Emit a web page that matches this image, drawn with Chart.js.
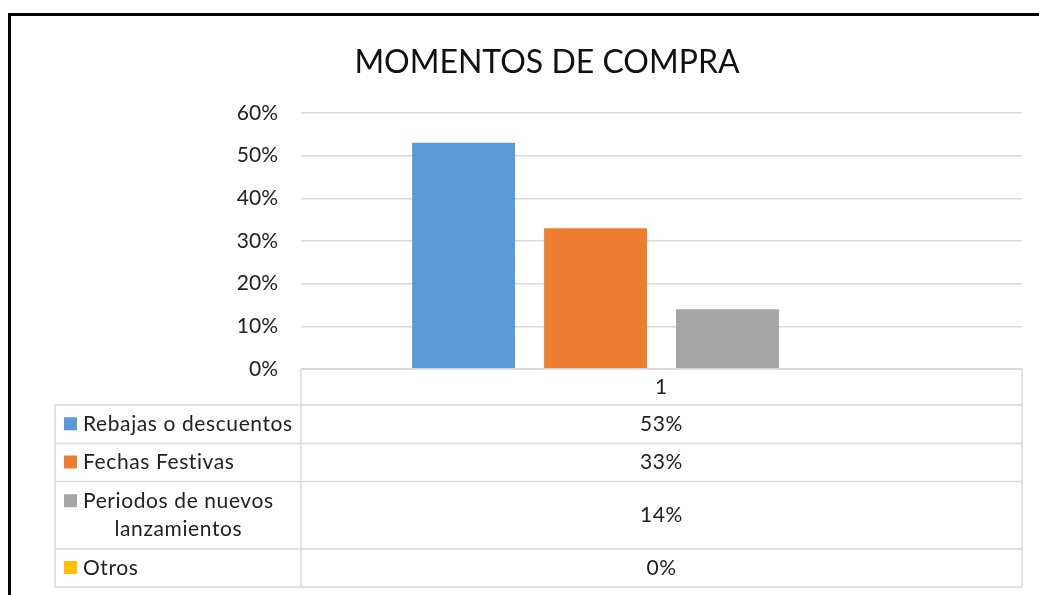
<!DOCTYPE html>
<html>
<head>
<meta charset="utf-8">
<title>Momentos de compra</title>
<script src="https://cdn.jsdelivr.net/npm/chart.js@4.4.1/dist/chart.umd.min.js"></script>
<style>
  html, body { margin: 0; padding: 0; background: #fff; }
  #wrap { position: relative; width: 1039px; height: 595px; overflow: hidden; }
  #frame { position: absolute; left: 8px; top: 13px; width: 1100px; height: 700px; border: 3px solid #000; box-sizing: border-box; pointer-events: none; }
  canvas { position: absolute; left: 0; top: 0; }
</style>
</head>
<body>
<div id="wrap">
  <canvas id="chart" width="1039" height="595"></canvas>
  <div id="frame"></div>
</div>
<script>
// Données du graphique
const categories = ['1'];
const seriesNames = ['Rebajas o descuentos', 'Fechas Festivas', 'Periodos de nuevos lanzamientos', 'Otros'];
const seriesValues = [0.53, 0.33, 0.14, 0];
const seriesColors = ['#5B9BD5', '#ED7D31', '#A5A5A5', '#FFC000'];
const yMax = 0.6;
const yStep = 0.1;

const FONT = 'Lato, "Open Sans", sans-serif';
const TEXT = '#222';
const LINE = '#d9d9d9';

// Table de données sous le graphique (comme Excel)
const dataTable = {
  id: 'dataTable',
  afterDraw(chart) {
    const ctx = chart.ctx;
    const area = chart.chartArea;
    const left = 55;
    const mid = area.left;
    const right = area.right;
    const rowH = [36, 38.5, 38, 67.5, 38];
    const tops = [area.bottom];
    rowH.forEach((h, i) => tops.push(tops[i] + h));

    ctx.save();
    ctx.strokeStyle = LINE;
    ctx.lineWidth = 1.5;
    ctx.beginPath();
    // lignes horizontales
    tops.forEach((y, i) => {
      ctx.moveTo(i === 0 ? mid : left, y);
      ctx.lineTo(right, y);
    });
    // lignes verticales
    ctx.moveTo(mid, tops[0]); ctx.lineTo(mid, tops[tops.length - 1]);
    ctx.moveTo(right, tops[0]); ctx.lineTo(right, tops[tops.length - 1]);
    ctx.moveTo(left, tops[1]); ctx.lineTo(left, tops[tops.length - 1]);
    ctx.stroke();

    const xCenter = chart.scales.x.getPixelForValue(0);
    ctx.font = '21px ' + FONT;
    ctx.letterSpacing = '0.6px';
    ctx.fillStyle = TEXT;
    ctx.textBaseline = 'middle';
    ctx.textAlign = 'center';
    ctx.fillText(categories[0], xCenter, (tops[0] + tops[1]) / 2);

    chart.data.datasets.forEach((ds, i) => {
      const yc = (tops[i + 1] + tops[i + 2]) / 2;
      ctx.textAlign = 'center';
      ctx.fillStyle = TEXT;
      ctx.fillText(Math.round(ds.data[0] * 100) + '%', xCenter, yc);

      // libellé avec retour à la ligne
      const words = ds.label.split(' ');
      const lines = [];
      let cur = '';
      words.forEach(w => {
        const test = cur ? cur + ' ' + w : w;
        if (ctx.measureText(test).width > 216 && cur) {
          lines.push(cur);
          cur = w;
        } else {
          cur = test;
        }
      });
      lines.push(cur);
      const lh = 28;
      const y0 = yc - (lines.length - 1) * lh / 2;
      const tx = 83;
      const w0 = ctx.measureText(lines[0]).width;
      ctx.fillStyle = ds.backgroundColor;
      ctx.fillRect(64, y0 - 7, 13, 13);
      ctx.fillStyle = TEXT;
      if (lines.length === 1) {
        ctx.textAlign = 'left';
        ctx.fillText(lines[0], tx, y0);
      } else {
        ctx.textAlign = 'center';
        lines.forEach((l, k) => ctx.fillText(l, tx + w0 / 2, y0 + k * lh));
      }
    });
    ctx.restore();
  }
};

const ctx = document.getElementById('chart').getContext('2d');
const chart = new Chart(ctx, {
  type: 'bar',
  data: {
    labels: categories,
    datasets: seriesNames.map((name, i) => ({
      label: name,
      data: [seriesValues[i]],
      backgroundColor: seriesColors[i],
      borderWidth: 0,
      barPercentage: 0.78,
      categoryPercentage: 0.732,
    })),
  },
  options: {
    responsive: false,
    animation: false,
    layout: { padding: { left: 72, right: 17, top: 0, bottom: 226 } },
    plugins: {
      legend: { display: false },
      tooltip: { enabled: false },
      title: {
        display: true,
        text: 'MOMENTOS DE COMPRA',
        color: '#111',
        font: { family: FONT, size: 32, weight: 'normal' },
        padding: { top: 43, bottom: 31.6 },
      },
    },
    scales: {
      x: { display: false },
      y: {
        min: 0,
        max: yMax,
        ticks: {
          stepSize: yStep,
          padding: 23,
          color: TEXT,
          font: { family: FONT, size: 21 },
          callback: v => Math.round(v * 100) + '%',
        },
        grid: { color: LINE, lineWidth: 1.5, drawTicks: false },
        border: { display: false },
        afterFit(scale) { scale.width = 229; },
      },
    },
  },
  plugins: [dataTable],
});
</script>
</body>
</html>
